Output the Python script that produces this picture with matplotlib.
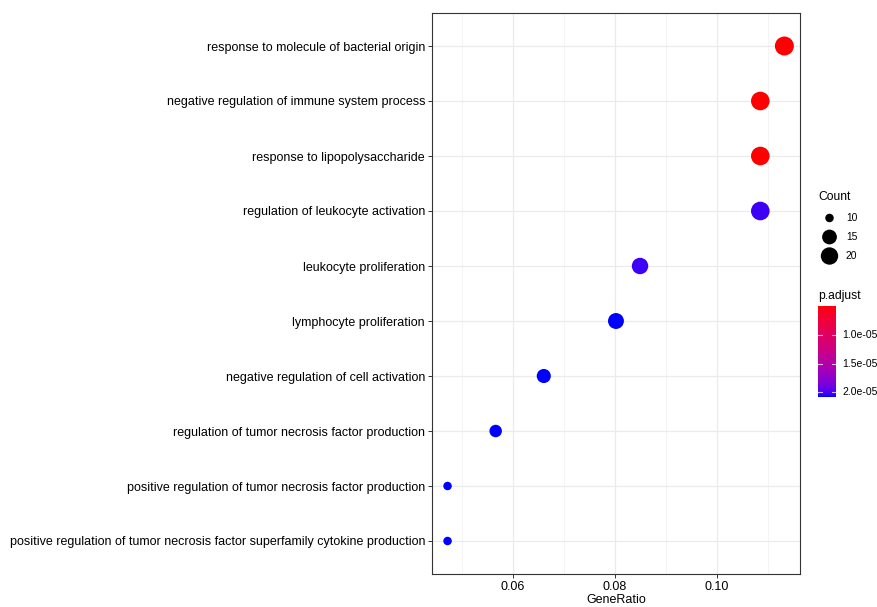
import numpy as np
import matplotlib
matplotlib.use("Agg")
import matplotlib.pyplot as plt
from matplotlib.colors import ListedColormap, Normalize

plt.rcParams['font.family'] = ['Liberation Sans', 'DejaVu Sans']

terms = [
    "response to molecule of bacterial origin",
    "negative regulation of immune system process",
    "response to lipopolysaccharide",
    "regulation of leukocyte activation",
    "leukocyte proliferation",
    "lymphocyte proliferation",
    "negative regulation of cell activation",
    "regulation of tumor necrosis factor production",
    "positive regulation of tumor necrosis factor production",
    "positive regulation of tumor necrosis factor superfamily cytokine production",
]
counts = [24, 23, 23, 23, 18, 17, 14, 12, 10, 10]
gene_total = 212
padj = [4.95e-6, 5.0e-6, 5.0e-6, 2.03e-5, 2.03e-5, 2.08e-5, 2.08e-5, 2.08e-5, 2.08e-5, 2.08e-5]
x_ticks = [0.06, 0.08, 0.10]
size_breaks = [10, 15, 20]
padj_breaks = [1.0e-5, 1.5e-5, 2.0e-5]
padj_lim = (4.95e-6, 2.08e-5)

gene_ratio = [c / gene_total for c in counts]


# red -> blue gradient interpolated in CIELAB like ggplot
def srgb_to_lab(rgb):
    rgb = np.asarray(rgb, float)
    lin = np.where(rgb <= 0.04045, rgb / 12.92, ((rgb + 0.055) / 1.055) ** 2.4)
    M = np.array([[0.4124, 0.3576, 0.1805], [0.2126, 0.7152, 0.0722], [0.0193, 0.1192, 0.9505]])
    xyz = M @ lin / np.array([0.95047, 1.0, 1.08883])
    f = np.where(xyz > 0.008856, np.cbrt(xyz), 7.787 * xyz + 16 / 116)
    return np.array([116 * f[1] - 16, 500 * (f[0] - f[1]), 200 * (f[1] - f[2])])


def lab_to_srgb(lab):
    L, a, b = lab
    fy = (L + 16) / 116
    fx = fy + a / 500
    fz = fy - b / 200
    f = np.array([fx, fy, fz])
    xyz = np.where(f ** 3 > 0.008856, f ** 3, (f - 16 / 116) / 7.787) * np.array([0.95047, 1.0, 1.08883])
    Minv = np.array([[3.2406, -1.5372, -0.4986], [-0.9689, 1.8758, 0.0415], [0.0557, -0.2040, 1.0570]])
    lin = Minv @ xyz
    lin = np.clip(lin, 0, 1)
    rgb = np.where(lin <= 0.0031308, 12.92 * lin, 1.055 * lin ** (1 / 2.4) - 0.055)
    return np.clip(rgb, 0, 1)


lab_r = srgb_to_lab([1, 0, 0])
lab_b = srgb_to_lab([0, 0, 1])
cols = [lab_to_srgb(lab_r + t * (lab_b - lab_r)) for t in np.linspace(0, 1, 256)]
cols[0], cols[-1] = (1, 0, 0), (0, 0, 1)
cmap = ListedColormap(cols)
norm = Normalize(*padj_lim)


def dot_size(c):
    d = 8.5 + 10.5 * np.sqrt((np.asarray(c, float) - 10) / 14)  # diameter px
    return (d * 0.72) ** 2


W, H = 877, 607
fig = plt.figure(figsize=(W / 100, H / 100), dpi=100)
ax = fig.add_axes([432 / W, 1 - 574 / H, (800 - 432) / W, (574 - 13) / H])

ypos = np.arange(len(terms))
ax.scatter(gene_ratio, ypos, s=dot_size(counts), c=padj, cmap=cmap, norm=norm,
           edgecolors='none', zorder=3)

ax.set_xlim(0.04412, 0.11627)
ax.set_ylim(len(terms) - 0.4, -0.6)
ax.set_yticks(ypos)
ax.set_yticklabels(terms)
ax.set_xticks(x_ticks)
ax.set_xticklabels(["%.2f" % t for t in x_ticks])
ax.set_xticks([0.05, 0.07, 0.09, 0.11], minor=True)
ax.grid(True, which='major', color='#ebebeb', lw=0.9, zorder=0)
ax.grid(True, which='minor', axis='x', color='#f3f3f3', lw=0.6, zorder=0)
ax.set_axisbelow(True)
ax.tick_params(axis='both', which='major', length=3, width=0.7, color='#333333',
               labelsize=9, labelcolor='black', pad=2)
ax.tick_params(axis='x', which='minor', length=0)
for sp in ax.spines.values():
    sp.set_color('#333333')
    sp.set_linewidth(0.8)
ax.set_xlabel("GeneRatio", fontsize=9, labelpad=1)

# size legend
leg = fig.add_axes([0, 0, 1, 1], facecolor='none')
leg.set_xlim(0, W)
leg.set_ylim(H, 0)
leg.axis('off')
leg.text(818, 197, "Count", fontsize=8.7, va='center', ha='left')
for b, yy in zip(size_breaks, [218, 237, 256]):
    leg.scatter([829.5], [yy], s=dot_size(b), color='black', edgecolors='none')
    leg.text(846, yy, str(b), fontsize=7.4, va='center', ha='left')
leg.text(818, 296, "p.adjust", fontsize=8.7, va='center', ha='left')

# colour bar
cax = fig.add_axes([818 / W, 1 - 397 / H, 18 / W, 91 / H])
grad = np.linspace(padj_lim[0], padj_lim[1], 300).reshape(-1, 1)
cax.imshow(grad, aspect='auto', cmap=cmap, norm=norm, origin='upper',
           extent=[0, 1, padj_lim[1], padj_lim[0]])
cax.set_xlim(0, 1)
cax.set_ylim(padj_lim[1], padj_lim[0])
cax.set_xticks([])
cax.set_yticks([])
for sp in cax.spines.values():
    sp.set_visible(False)
for b in padj_breaks:
    cax.plot([0, 0.2], [b, b], color='white', lw=0.8, alpha=0.7)
    cax.plot([0.8, 1], [b, b], color='white', lw=0.8, alpha=0.7)
    cax.text(1.35, b, "%.1e" % b, fontsize=7.5, va='center', ha='left')

fig.savefig("out.png", dpi=100, facecolor='white')
